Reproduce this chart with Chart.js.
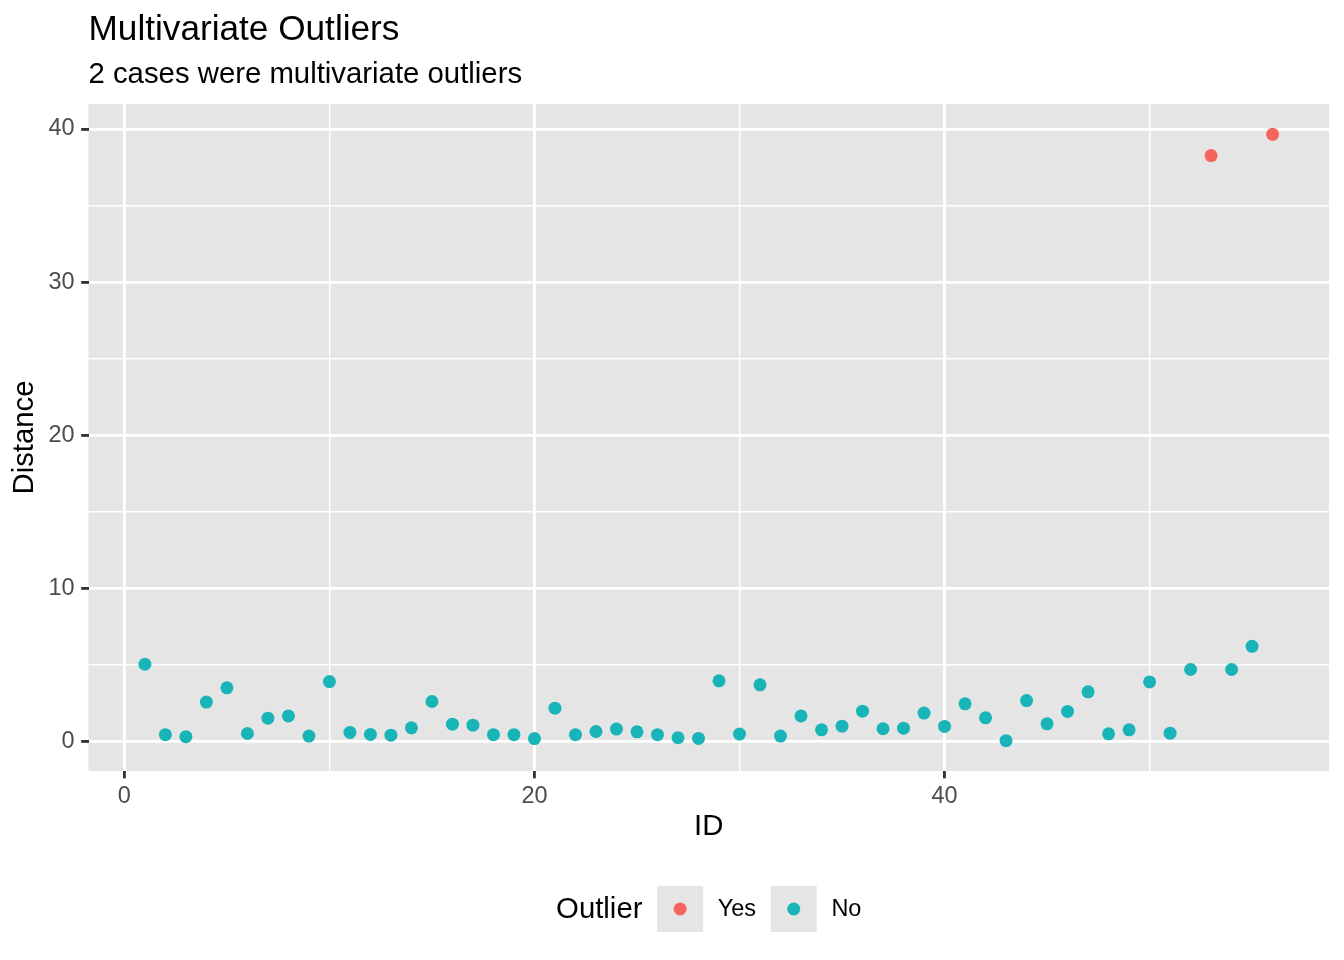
<!DOCTYPE html>
<html>
<head>
<meta charset="utf-8">
<title>Multivariate Outliers</title>
<script src="https://cdn.jsdelivr.net/npm/chart.js@4.4.1/dist/chart.umd.min.js"></script>
<style>
  html, body { margin: 0; padding: 0; background: #ffffff; }
  #wrap { width: 1344px; height: 960px; }
</style>
</head>
<body>
<div id="wrap"><canvas id="outlierChart" width="1344" height="960"></canvas></div>
<script>
// case ids and their Mahalanobis distance
const ids = [
  1, 2, 3, 4, 5, 6, 7, 8, 9, 10, 11, 12, 13, 14, 15, 16, 17, 18, 19, 20,
  21, 22, 23, 24, 25, 26, 27, 28, 29, 30, 31, 32, 33, 34, 35, 36, 37, 38, 39, 40,
  41, 42, 43, 44, 45, 46, 47, 48, 49, 50, 51, 52, 53, 54, 55, 56
];
const distance = [
  5.04, 0.44, 0.31, 2.57, 3.50, 0.52, 1.52, 1.67, 0.35, 3.91,
  0.59, 0.46, 0.41, 0.89, 2.61, 1.13, 1.06, 0.44, 0.44, 0.19,
  2.17, 0.44, 0.65, 0.81, 0.63, 0.44, 0.24, 0.20, 3.96, 0.48,
  3.70, 0.35, 1.67, 0.76, 1.00, 1.98, 0.83, 0.87, 1.85, 0.98,
  2.46, 1.54, 0.05, 2.67, 1.15, 1.96, 3.24, 0.50, 0.76, 3.89,
  0.54, 4.70, 38.26, 4.70, 6.21, 39.65
];
const outlier = [
  "No", "No", "No", "No", "No", "No", "No", "No", "No", "No",
  "No", "No", "No", "No", "No", "No", "No", "No", "No", "No",
  "No", "No", "No", "No", "No", "No", "No", "No", "No", "No",
  "No", "No", "No", "No", "No", "No", "No", "No", "No", "No",
  "No", "No", "No", "No", "No", "No", "No", "No", "No", "No",
  "No", "No", "Yes", "No", "No", "Yes"
];
const groups = ["Yes", "No"];

const xMajorTicks = [0, 20, 40];
const xMinorTicks = [10, 30, 50];
const yMajorTicks = [0, 10, 20, 30, 40];
const yMinorTicks = [5, 15, 25, 35];

const titleText = "Multivariate Outliers";
const subtitleText = "2 cases were multivariate outliers";
const xTitle = "ID";
const yTitle = "Distance";
const legendTitle = "Outlier";

const groupColors = { Yes: "#F6645E", No: "#19B4B8" };
const FONT = '"Liberation Sans", Arial, Helvetica, sans-serif';
const PANEL = "#E5E5E5";
const POINT_R = 6.5;

// ggplot style 5% expansion on both sides
function expandRange(values) {
  const lo = Math.min(...values), hi = Math.max(...values);
  const pad = (hi - lo) * 0.05;
  return [lo - pad, hi + pad];
}
const [xMin, xMax] = expandRange(ids);
const [yMin, yMax] = expandRange(distance);

const datasets = groups.map((g) => ({
  label: g,
  data: ids
    .map((id, i) => ({ x: id, y: distance[i], g: outlier[i] }))
    .filter((p) => p.g === g),
  backgroundColor: groupColors[g],
  borderWidth: 0,
  pointRadius: POINT_R,
  pointHoverRadius: POINT_R,
}));

function gridOpts(major) {
  return {
    color: "#ffffff",
    lineWidth: (ctx) => (ctx.tick && major.includes(ctx.tick.value) ? 2.85 : 1.42),
    tickColor: (ctx) => (ctx.tick && major.includes(ctx.tick.value) ? "#333333" : "rgba(0,0,0,0)"),
    tickWidth: 2.85,
    tickLength: 7.33,
    drawTicks: true,
  };
}

// panel background
const panelPlugin = {
  id: "panelBg",
  beforeDraw(chart) {
    const { ctx, chartArea: a } = chart;
    ctx.save();
    ctx.fillStyle = PANEL;
    ctx.fillRect(a.left, a.top, a.right - a.left, a.bottom - a.top);
    ctx.restore();
  },
};

// title, subtitle and the legend along the bottom
const textPlugin = {
  id: "ggText",
  afterDraw(chart) {
    const { ctx, chartArea: a } = chart;
    ctx.save();
    ctx.fillStyle = "#000000";
    ctx.textAlign = "left";
    ctx.textBaseline = "alphabetic";
    ctx.font = "35.2px " + FONT;
    ctx.fillText(titleText, a.left, 40);
    ctx.font = "29.33px " + FONT;
    ctx.fillText(subtitleText, a.left, 82.5);

    // legend
    const keySize = 46, gap = 14.67, midY = 909;
    ctx.font = "29.33px " + FONT;
    const titleW = ctx.measureText(legendTitle).width;
    ctx.font = "23.47px " + FONT;
    const labelW = groups.map((g) => ctx.measureText(g).width);
    let total = titleW;
    labelW.forEach((w) => { total += gap + keySize + gap + w; });
    let x = (a.left + a.right) / 2 - total / 2;

    ctx.textBaseline = "middle";
    ctx.font = "29.33px " + FONT;
    ctx.fillText(legendTitle, x, midY + 1);
    x += titleW + gap;
    groups.forEach((g, i) => {
      ctx.fillStyle = PANEL;
      ctx.fillRect(x, midY - keySize / 2, keySize, keySize);
      ctx.fillStyle = groupColors[g];
      ctx.beginPath();
      ctx.arc(x + keySize / 2, midY, POINT_R, 0, Math.PI * 2);
      ctx.fill();
      x += keySize + gap;
      ctx.fillStyle = "#000000";
      ctx.font = "23.47px " + FONT;
      ctx.fillText(g, x, midY + 1);
      x += labelW[i] + gap;
    });
    ctx.restore();
  },
};

Chart.defaults.font.family = FONT;

new Chart(document.getElementById("outlierChart").getContext("2d"), {
  type: "scatter",
  data: { datasets: datasets },
  options: {
    responsive: false,
    animation: false,
    devicePixelRatio: 1,
    layout: { padding: { top: 104, right: 15, bottom: 0, left: 0 } },
    plugins: {
      legend: { display: false },
      title: { display: false },
      tooltip: { enabled: false },
    },
    scales: {
      x: {
        type: "linear",
        min: xMin,
        max: xMax,
        afterBuildTicks: (scale) => {
          scale.ticks = [...xMajorTicks, ...xMinorTicks]
            .sort((a, b) => a - b)
            .map((v) => ({ value: v }));
        },
        afterFit: (scale) => { scale.height = 189; },
        border: { display: false },
        grid: gridOpts(xMajorTicks),
        ticks: {
          autoSkip: false,
          maxRotation: 0,
          padding: 4,
          color: "#4D4D4D",
          font: { size: 23.47 },
          callback: (v) => (xMajorTicks.includes(v) ? String(v) : ""),
        },
        title: {
          display: true,
          text: xTitle,
          color: "#000000",
          font: { size: 29.33 },
          padding: { top: 0, bottom: 115.6 },
        },
      },
      y: {
        type: "linear",
        min: yMin,
        max: yMax,
        afterBuildTicks: (scale) => {
          scale.ticks = [...yMajorTicks, ...yMinorTicks]
            .sort((a, b) => a - b)
            .map((v) => ({ value: v }));
        },
        afterFit: (scale) => { scale.width = 88.5; },
        border: { display: false },
        grid: gridOpts(yMajorTicks),
        ticks: {
          autoSkip: false,
          padding: 6.5,
          color: "#4D4D4D",
          font: { size: 23.47 },
          callback: (v) => (yMajorTicks.includes(v) ? String(v) : ""),
        },
        title: {
          display: true,
          text: yTitle,
          color: "#000000",
          font: { size: 29.33 },
          padding: { top: 7.4, bottom: 0 },
        },
      },
    },
  },
  plugins: [panelPlugin, textPlugin],
});
</script>
</body>
</html>
